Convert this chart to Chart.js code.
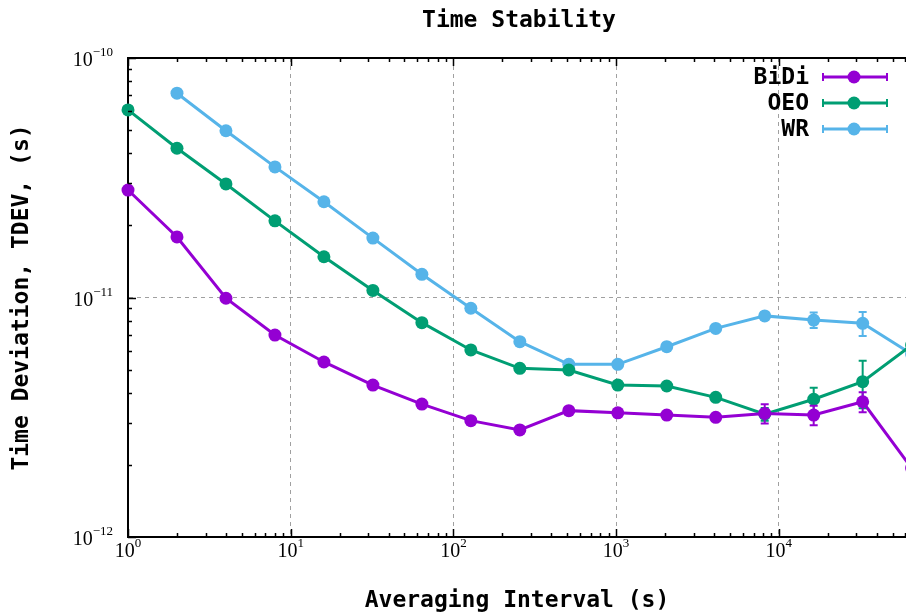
<!DOCTYPE html>
<html><head><meta charset="utf-8">
<script src="https://cdn.jsdelivr.net/npm/chart.js@4.4.1/dist/chart.umd.min.js"></script>
<style>html,body{margin:0;padding:0;background:#fff;overflow:hidden}#wrap{width:906px;height:613px;position:relative}</style>
</head><body><div id="wrap"><canvas id="c" width="906" height="613"></canvas></div>
<script>
// ---- data ----
const chartTitle = 'Time Stability';
const taus = [1,2,4,8,16,32,64,128,256,512,1024,2048,4096,8192,16384,32768,65536];
const seriesNames = ['BiDi','OEO','WR'];
const bidi = [2.81e-11,1.79e-11,9.93e-12,6.97e-12,5.38e-12,4.31e-12,3.59e-12,3.06e-12,2.80e-12,3.37e-12,3.30e-12,3.23e-12,3.16e-12,3.28e-12,3.23e-12,3.67e-12,1.94e-12];
const bidiErr = [0,0,0,0,0,0,0,0,0,0.05e-12,0.05e-12,0.05e-12,0.08e-12,0.30e-12,0.30e-12,0.35e-12,0.3e-12];
const oeo = [6.07e-11,4.20e-11,2.98e-11,2.09e-11,1.48e-11,1.07e-11,7.85e-12,6.04e-12,5.06e-12,4.98e-12,4.31e-12,4.27e-12,3.83e-12,3.26e-12,3.76e-12,4.45e-12,6.33e-12];
const oeoErr = [0,0,0,0,0,0,0,0,0,0.05e-12,0.05e-12,0.08e-12,0.1e-12,0.2e-12,0.44e-12,1.0e-12,0.5e-12];
const wr = [null,7.13e-11,4.97e-11,3.51e-11,2.51e-11,1.77e-11,1.25e-11,9.02e-12,6.54e-12,5.26e-12,5.26e-12,6.23e-12,7.43e-12,8.38e-12,8.05e-12,7.80e-12,5.81e-12];
const wrErr = [0,0,0,0,0,0,0,0,0,0.05e-12,0.05e-12,0.1e-12,0.15e-12,0.3e-12,0.6e-12,0.9e-12,0.5e-12];
const xTickExps = [0,1,2,3,4];
const yTickExps = [-12,-11,-10];
const xRange = [1, 60500];
const yRange = [1e-12, 1e-10];

const colors = ['#9400d3','#009e73','#56b4e9'];
const MONO = '"DejaVu Sans Mono", "Liberation Mono", monospace';
const SERIF = '"Liberation Serif", "DejaVu Serif", serif';

function isMajor(v){ const l = Math.log10(v); return Math.abs(l - Math.round(l)) < 1e-6; }
function logTicks(min, max){
  const t = [];
  for (let e = Math.floor(Math.log10(min)); e <= Math.ceil(Math.log10(max)); e++) {
    for (let m = 1; m < 10; m++) {
      const v = m * Math.pow(10, e);
      if (v >= min * 0.999999 && v <= max * 1.000001) t.push({value: v});
    }
  }
  return t;
}
function pts(arr){ return taus.map((t,i) => ({x: t, y: arr[i]})); }

const datasets = [bidi, oeo, wr].map((arr, i) => ({
  label: seriesNames[i],
  data: pts(arr),
  errors: [bidiErr, oeoErr, wrErr][i],
  borderColor: colors[i],
  backgroundColor: colors[i],
  borderWidth: 3,
  pointRadius: 6.5,
  pointHoverRadius: 6.5,
  pointBorderWidth: 0,
  pointBackgroundColor: colors[i],
  tension: 0,
  spanGaps: false,
  clip: false
}));

// error bars drawn under each dataset's line/markers
const errorBars = {
  id: 'errorBars',
  beforeDatasetDraw(chart, args) {
    const ds = chart.data.datasets[args.index];
    if (!ds.errors) return;
    const {ctx, chartArea: a} = chart;
    const xs = chart.scales.x, ys = chart.scales.y;
    ctx.save();
    ctx.beginPath(); ctx.rect(a.left, a.top, a.right - a.left, a.bottom - a.top); ctx.clip();
    ctx.strokeStyle = ds.borderColor; ctx.lineWidth = 2;
    ds.data.forEach((p, j) => {
      const e = ds.errors[j];
      if (p.y == null || !e) return;
      const x = xs.getPixelForValue(p.x);
      const y1 = ys.getPixelForValue(p.y + e), y2 = ys.getPixelForValue(Math.max(p.y - e, 1e-13));
      ctx.beginPath();
      ctx.moveTo(x, y1); ctx.lineTo(x, y2);
      ctx.moveTo(x - 4, y1); ctx.lineTo(x + 4, y1);
      ctx.moveTo(x - 4, y2); ctx.lineTo(x + 4, y2);
      ctx.stroke();
    });
    ctx.restore();
  }
};

// power-of-ten label with a real superscript exponent
function drawPow(ctx, exp, x, yMid, align) {
  const base = '10', ex = String(exp).replace('-', '\u2212');
  ctx.font = '20px ' + SERIF;
  const wb = ctx.measureText(base).width;
  ctx.font = '13px ' + SERIF;
  const we = ctx.measureText(ex).width;
  const total = wb + we;
  let x0 = align === 'right' ? x - total : x - total / 2;
  ctx.textAlign = 'left'; ctx.textBaseline = 'middle';
  ctx.font = '20px ' + SERIF;
  ctx.fillText(base, x0, yMid);
  ctx.font = '13px ' + SERIF;
  ctx.fillText(ex, x0 + wb, yMid - 8);
}

// frame (top border) + inward ticks + tick labels + title
const frame = {
  id: 'frame',
  afterDraw(chart) {
    const {ctx, chartArea: a} = chart;
    const xs = chart.scales.x, ys = chart.scales.y;
    ctx.save();
    ctx.strokeStyle = '#000'; ctx.lineWidth = 1.5;
    ctx.beginPath();
    xs.ticks.forEach(t => {
      const x = Math.round(xs.getPixelForValue(t.value)) + 0.5;
      const L = isMajor(t.value) ? 8 : 4;
      ctx.moveTo(x, a.bottom); ctx.lineTo(x, a.bottom - L);
      ctx.moveTo(x, a.top); ctx.lineTo(x, a.top + L);
    });
    ys.ticks.forEach(t => {
      const y = Math.round(ys.getPixelForValue(t.value)) + 0.5;
      const L = isMajor(t.value) ? 8 : 4;
      ctx.moveTo(a.left, y); ctx.lineTo(a.left + L, y);
    });
    ctx.stroke();
    ctx.lineWidth = 2;
    ctx.beginPath();
    ctx.moveTo(a.left, a.top); ctx.lineTo(a.right, a.top);
    ctx.stroke();
    ctx.fillStyle = '#000';
    xTickExps.forEach(e => drawPow(ctx, e, xs.getPixelForValue(Math.pow(10, e)), a.bottom + 15, 'center'));
    yTickExps.forEach(e => drawPow(ctx, e, a.left - 15, ys.getPixelForValue(Math.pow(10, e)) + 3, 'right'));
    ctx.font = 'bold 23px ' + MONO;
    ctx.textAlign = 'center'; ctx.textBaseline = 'middle';
    ctx.fillText(chartTitle, 519, 21);
    ctx.restore();
  }
};

// gnuplot-style key: text right-aligned, sample line with marker and error caps
const key = {
  id: 'key',
  afterDraw(chart) {
    const {ctx} = chart;
    ctx.save();
    ctx.font = 'bold 23px ' + MONO;
    ctx.textAlign = 'right'; ctx.textBaseline = 'middle';
    chart.data.datasets.forEach((ds, i) => {
      const y = 77 + i * 26;
      ctx.fillStyle = '#000';
      ctx.fillText(ds.label, 809, y + 1);
      ctx.strokeStyle = ds.borderColor; ctx.lineWidth = 3;
      ctx.beginPath(); ctx.moveTo(823, y); ctx.lineTo(887, y); ctx.stroke();
      ctx.lineWidth = 2;
      ctx.beginPath();
      ctx.moveTo(823, y - 4); ctx.lineTo(823, y + 4);
      ctx.moveTo(887, y - 4); ctx.lineTo(887, y + 4);
      ctx.stroke();
      ctx.fillStyle = ds.borderColor;
      ctx.beginPath(); ctx.arc(854, y, 6.5, 0, Math.PI * 2); ctx.fill();
    });
    ctx.restore();
  }
};

const gridColor = (c) => (c.tick && isMajor(c.tick.value)) ? '#a0a0a0' : 'rgba(0,0,0,0)';

new Chart(document.getElementById('c'), {
  type: 'line',
  data: { datasets },
  options: {
    responsive: false,
    animation: false,
    events: [],
    layout: { autoPadding: false, padding: { top: 58, right: 0, bottom: 0, left: 0 } },
    plugins: {
      legend: { display: false },
      tooltip: { enabled: false },
      title: { display: false }
    },
    scales: {
      x: {
        type: 'logarithmic',
        min: xRange[0], max: xRange[1],
        afterBuildTicks: s => { s.ticks = logTicks(xRange[0], xRange[1]); },
        afterFit: s => { s.height = 76; s.paddingLeft = 0; s.paddingRight = 0; },
        grid: { color: gridColor, lineWidth: 1, drawTicks: false },
        border: { display: true, color: '#000', width: 2, dash: [4, 4] },
        ticks: { display: false },
        title: {
          display: true, text: 'Averaging Interval (s)', color: '#000',
          font: { family: MONO, size: 23, weight: 'bold', lineHeight: 1 },
          padding: { top: 0, bottom: 0 }
        }
      },
      y: {
        type: 'logarithmic',
        min: yRange[0], max: yRange[1],
        afterBuildTicks: s => { s.ticks = logTicks(yRange[0], yRange[1]); },
        afterFit: s => { s.width = 128; s.paddingTop = 0; s.paddingBottom = 0; },
        grid: { color: gridColor, lineWidth: 1, drawTicks: false },
        border: { display: true, color: '#000', width: 2, dash: [4, 4] },
        ticks: { display: false },
        title: {
          display: true, text: 'Time Deviation, TDEV, (s)', color: '#000',
          font: { family: MONO, size: 23, weight: 'bold', lineHeight: 1 },
          padding: { top: 11, bottom: 0 }
        }
      }
    }
  },
  plugins: [errorBars, frame, key]
});
</script>
</body></html>
